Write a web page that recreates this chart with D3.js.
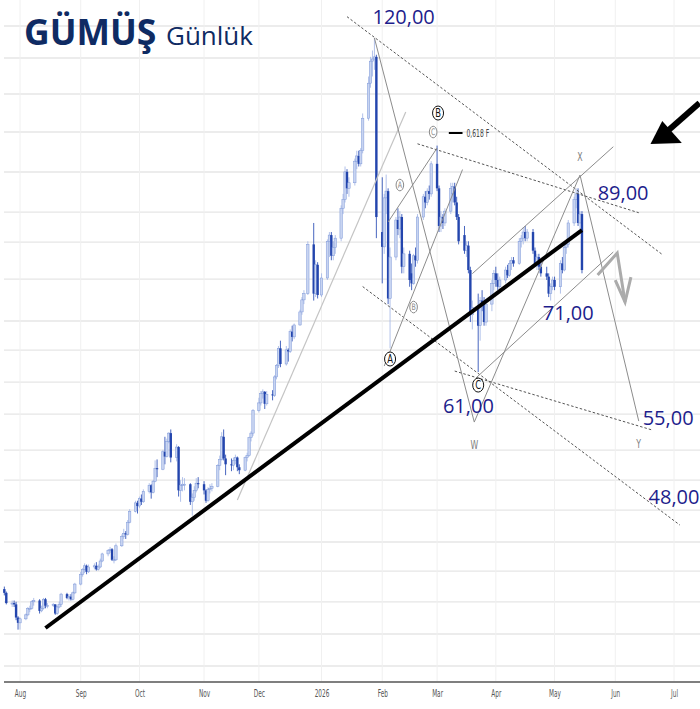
<!DOCTYPE html>
<html>
<head>
<meta charset="utf-8">
<script src="https://cdn.jsdelivr.net/npm/d3@7"></script>
<style>
  body { margin: 0; background: #fff; }
  svg { display: block; }
</style>
</head>
<body>
<div id="chart"></div>
<script>
// daily candles, one row per trading day: [open, high, low, close]
var jul25 = [
  [39.3,39.5,38.8,39.0],[39.0,39.1,38.1,38.2],[38.2,38.4,37.9,38.2],[38.2,38.4,37.9,38.1],
  [38.1,38.3,36.9,37.1],[37.1,37.2,36.2,36.7]
]
var aug25 = [
  [36.7,37.1,36.2,37.0],[37.0,37.4,36.9,37.3],[37.3,37.9,37.2,37.8],[37.8,38.0,37.5,37.8],
  [37.8,38.4,37.7,38.3],[38.3,38.6,38.0,38.4],[38.4,38.5,37.4,37.6],[37.6,38.0,37.5,37.8],
  [37.8,38.6,37.7,38.5],[38.5,38.6,37.8,38.0],[38.0,38.2,37.8,38.0],[38.0,38.2,37.9,38.1],
  [38.1,38.1,37.3,37.4],[37.4,38.0,37.3,37.9],[37.9,38.3,37.8,38.1],[38.1,39.0,37.9,38.9],
  [38.9,39.0,38.5,38.6],[38.6,38.9,38.4,38.7],[38.7,38.9,38.4,38.5],[38.5,39.1,38.4,39.0],
  [39.0,39.8,38.9,39.7]
]
var sep25 = [
  [39.7,40.7,39.6,40.5],[40.5,41.0,40.3,40.9],[40.9,41.4,40.6,41.2],[41.2,41.3,40.5,40.7],
  [40.7,41.3,40.6,41.1],[41.1,41.4,40.9,41.2],[41.2,41.5,40.8,40.9],[40.9,41.3,40.8,41.1],
  [41.1,41.8,41.0,41.6],[41.6,42.3,41.5,42.2],[42.2,42.6,42.0,42.5],[42.5,42.8,42.3,42.6],
  [42.6,42.7,41.6,41.7],[41.7,42.0,41.4,41.7],[41.7,43.1,41.6,42.9],[42.9,43.9,42.8,43.7],
  [43.7,44.4,43.5,44.0],[44.0,44.2,43.5,43.9],[43.9,45.2,43.8,45.0],[45.0,46.2,44.9,46.0],
  [46.0,47.0,45.9,46.8],[46.8,47.0,45.8,46.5]
]
var oct25 = [
  [46.5,47.4,46.3,47.2],[47.2,47.6,46.6,46.9],[46.9,48.1,46.8,47.9],[47.9,48.7,47.7,48.5],
  [48.5,48.6,47.2,47.8],[47.8,49.0,47.7,48.9],[48.9,51.0,48.8,50.2],[50.2,51.1,49.3,50.1],
  [50.1,52.1,50.0,51.9],[51.9,53.5,50.6,51.4],[51.4,53.3,51.3,53.0],[53.0,54.0,52.8,53.9],
  [53.9,54.3,50.8,51.3],[51.3,52.7,50.9,52.4],[52.4,52.5,47.4,48.0],[48.0,49.0,46.9,48.5],
  [48.5,49.3,47.9,48.6],[48.6,49.2,48.0,48.6],[48.6,48.7,46.6,46.9],[46.9,47.7,45.6,47.3],
  [47.3,48.4,47.0,48.0],[48.0,49.2,47.8,48.7],[48.7,49.3,48.2,48.6]
]
var nov25 = [
  [48.6,48.9,47.6,48.0],[48.0,48.1,46.8,47.0],[47.0,48.3,46.9,48.1],[48.1,48.6,47.7,48.2],
  [48.2,48.7,47.9,48.4],[48.4,50.6,48.3,50.5],[50.5,51.5,50.0,51.1],[51.1,54.0,51.0,53.5],
  [53.5,54.3,51.0,51.2],[51.2,51.6,49.5,50.6],[50.6,51.2,49.9,50.5],[50.5,51.3,50.0,51.0],
  [51.0,51.6,50.6,51.3],[51.3,51.4,49.9,50.3],[50.3,50.6,49.6,50.0],[50.0,51.4,49.9,51.3],
  [51.3,51.8,50.9,51.5],[51.5,53.5,51.4,53.4],[53.4,54.1,53.0,53.9],[53.9,56.6,53.6,56.4]
]
var dec25 = [
  [56.4,57.9,56.2,57.3],[57.3,58.7,57.0,58.4],[58.4,58.9,57.8,58.6],[58.6,58.7,56.6,57.2],
  [57.2,58.7,57.0,58.3],[58.3,58.8,57.6,58.2],[58.2,60.6,58.0,60.4],[60.4,62.0,60.1,61.8],
  [61.8,64.3,61.5,64.0],[64.0,65.0,61.6,62.0],[62.0,64.3,61.8,63.8],[63.8,64.0,62.3,63.6],
  [63.6,66.5,63.4,66.2],[66.2,67.0,64.9,65.5],[65.5,67.3,65.2,67.1],[67.1,69.2,67.0,68.9],
  [68.9,71.0,68.5,70.6],[70.6,72.0,70.0,71.5],[71.5,79.5,71.3,79.0],[79.0,82.5,70.5,71.5],
  [71.5,76.5,71.0,75.8],[75.8,76.2,70.8,71.3]
]
var jan26 = [
  [71.3,74.5,71.0,73.8],[73.8,79.8,73.5,79.5],[79.5,81.0,77.0,80.5],[80.5,81.0,76.5,77.2],
  [77.2,79.5,76.5,78.5],[78.5,80.5,77.5,80.0],[80.0,85.5,79.5,85.0],[85.0,87.5,84.0,86.5],
  [86.5,92.5,86.0,91.5],[91.5,92.0,87.5,88.5],[88.5,90.5,87.0,89.5],[89.5,94.0,89.0,93.5],
  [93.5,95.5,92.0,94.5],[94.5,95.5,92.5,93.0],[93.0,96.0,92.5,95.5],[95.5,103.0,95.0,102.0],
  [102.0,111.0,101.5,109.5],[109.5,115.5,108.5,114.5],[114.5,117.0,111.0,115.0],
  [115.0,120.0,112.5,115.5],[115.5,116.0,80.0,83.5]
]
var feb26 = [
  [81.0,90.5,73.0,78.6],[78.6,87.5,77.5,86.8],[86.8,91.0,84.0,88.0],[88.0,88.5,70.0,70.8],
  [70.8,78.5,64.0,77.0],[77.0,83.5,76.5,83.0],[83.0,85.0,80.5,81.5],[81.5,84.5,80.0,83.5],
  [83.5,84.0,74.5,75.5],[75.5,78.5,74.5,77.5],[77.5,78.0,72.5,73.5],[74.5,76.0,72.0,73.0],
  [73.0,77.5,72.8,77.2],[77.2,78.5,75.5,76.5],[76.5,84.0,76.0,83.5],[83.5,87.5,83.0,87.0],
  [87.0,88.0,85.0,86.0],[86.0,88.5,85.5,88.0],[88.0,89.0,86.5,87.5],[87.5,93.5,87.0,93.0]
]
var mar26 = [
  [93.0,96.5,88.0,88.5],[88.5,89.0,81.0,82.0],[82.0,84.5,81.0,83.5],[83.5,84.0,81.5,82.5],
  [82.5,85.0,82.0,84.5],[84.5,89.5,84.0,88.5],[87.5,89.5,86.0,88.8],[88.8,89.5,85.5,86.0],
  [86.0,87.0,83.0,83.5],[83.5,84.0,79.0,79.5],[80.5,82.0,77.5,78.0],[78.0,79.5,77.0,78.8],
  [78.8,79.5,74.5,75.0],[75.0,75.5,67.5,68.5],[68.5,70.5,66.5,69.5],[69.5,71.5,61.0,67.0],
  [67.0,71.0,65.0,70.5],[70.5,72.0,69.0,70.0],[70.0,71.0,67.0,67.5],[67.5,70.5,67.0,70.0],
  [70.0,73.5,69.0,73.0],[73.0,75.0,72.0,74.5]
]
var apr26 = [
  [74.5,75.5,72.5,73.5],[73.5,74.5,72.0,72.5],[72.5,74.0,72.0,73.5],[73.5,75.5,73.0,75.0],
  [75.0,75.8,73.8,74.2],[74.2,76.5,74.0,76.0],[76.0,77.0,75.0,76.5],[76.5,77.0,75.5,76.0],
  [76.0,80.0,75.8,79.5],[79.5,80.5,78.5,80.0],[80.0,81.8,79.0,81.0],[81.0,82.0,79.5,80.0],
  [80.0,81.5,79.5,81.0],[81.0,81.5,77.5,78.0],[78.0,78.5,75.5,76.0],[76.0,77.5,75.0,77.0],
  [77.0,77.5,75.0,75.5],[75.5,76.5,74.0,74.5],[74.5,75.5,73.5,74.0],[74.0,74.5,71.0,71.5],
  [71.5,73.0,70.5,72.5],[72.5,74.0,72.0,73.5]
]
var may26 = [
  [73.5,74.0,72.0,72.5],[72.5,76.5,71.5,76.0],[76.0,77.0,74.5,75.0],[75.0,79.0,74.8,78.5],
  [78.5,79.5,77.5,79.0],[79.0,83.0,78.5,82.5],[82.5,87.0,82.0,86.5],[86.5,88.5,85.0,87.5],
  [87.5,88.5,82.0,82.5],[82.5,84.5,81.5,84.0],[84.0,84.5,74.5,75.0]
]
// first calendar day of each block
var blockStarts = ["2025-07-24","2025-08-01","2025-09-01","2025-10-01","2025-11-01","2025-12-01",
                   "2026-01-01","2026-02-01","2026-03-01","2026-04-01","2026-05-01"]
var holidays = ["2025-12-25","2026-01-01"]

// axis
var tickDates  = ["2025-08-01","2025-09-01","2025-10-01","2025-11-03","2025-12-01","2026-01-02",
                  "2026-02-02","2026-03-02","2026-04-01","2026-05-01","2026-06-01","2026-07-01"]
var tickLabels = ["Aug","Sep","Oct","Nov","Dec","2026","Feb","Mar","Apr","May","Jun","Jul"]
var gridPrices = [122.95,115.23,107.13,99.19,91.47,84.35,79.37,73.64,67.64,63.78,
                  59.77,56.02,52.08,49.01,46.12,43.23,40.76,38.29,35.88,33.63]

// drawn analysis, as [date, price] points
var supportLine = [["2025-08-14",36.32],["2026-05-15",81.33]]
var steepLine   = [["2025-11-20",47.06],["2026-02-14",103.3]]
var dottedLines = [
  [["2026-01-15",125.3],["2026-06-25",77.4]],
  [["2026-02-20",96.85],["2026-06-13",84.23]],
  [["2026-01-23",72.53],["2026-07-04",44.74]],
  [["2026-03-11",61.12],["2026-06-20",54.23]]
]
var waveLines = [
  [["2026-01-29",120],["2026-03-21",55.12],["2026-05-14",90.91],["2026-06-13",55.23]],
  [["2026-02-03",61.74],["2026-03-15",91.93]],
  [["2026-02-05",82.66],["2026-03-02",96.03]],
  [["2026-03-20",74.45],["2026-05-31",96.28]],
  [["2026-03-22",60.30],["2026-05-31",77.79]]
]
var downArrow     = [["2026-05-23",74.24],["2026-06-02",77.63],["2026-06-06",70.29]]
var downArrowHead = [["2026-06-01",73.49],["2026-06-06",70.29],["2026-06-09",73.94]]
var bigArrowShaft = [["2026-07-14",105.2],["2026-06-26",98.79]]
var bigArrowHead  = [["2026-06-19",96.81],["2026-06-25",101.43],["2026-07-05",97.0]]
var fibMark = [["2026-03-08",98.99],["2026-03-15",98.99]]

var levelTexts  = ["120,00","89,00","71,00","61,00","55,00","48,00"]
var levelDates  = ["2026-01-28","2026-05-23","2026-04-25","2026-03-05","2026-06-15","2026-06-18"]
var levelPrices = [123.45,86.43,67.77,56.14,54.79,46.68]

var majorWaves  = ["B","A","C"]
var majorDates  = ["2026-03-02T12:00","2026-02-06","2026-03-23"]
var majorPrices = [103.08,62.63,59.41]
var minorWaves  = ["C","A","B"]
var minorDates  = ["2026-02-28","2026-02-11","2026-02-18"]
var minorPrices = [99.19,89.09,69.58]
var pointNames  = ["X","W","Y"]
var pointDates  = ["2026-05-14","2026-03-21","2026-06-13"]
var pointPrices = [93.53,52.19,52.29]

var width = 700
var height = 709
var svg, x, y, candles

var parseDay = d3.timeParse("%Y-%m-%d")
var parseHour = d3.timeParse("%Y-%m-%dT%H:%M")
var fmtDay = d3.timeFormat("%Y-%m-%d")
function toDate(s){ return s.length > 10 ? parseHour(s) : parseDay(s) }
function pt(p){ return [x(toDate(p[0])), y(p[1])] }

init_vis()
draw_grid()
draw_candles()
draw_analysis()
draw_labels()

function build_candles(){
  var blocks = [jul25, aug25, sep25, oct25, nov25, dec25, jan26, feb26, mar26, apr26, may26]
  var out = []
  blocks.forEach(function(rows, b){
    var d = parseDay(blockStarts[b]), i = 0
    while (i < rows.length){
      var wd = d.getDay()
      if (wd != 0 && wd != 6 && holidays.indexOf(fmtDay(d)) < 0){
        var r = rows[i++]
        out.push({date: new Date(d), open: r[0], high: r[1], low: r[2], close: r[3]})
      }
      d.setDate(d.getDate() + 1)
    }
  })
  return out
}

function init_vis(){
  svg = d3.select("#chart")
    .append("svg")
      .attr("width", width)
      .attr("height", height)
      .style("font-family", "'Open Sans', sans-serif")

  x = d3.scaleTime()
    .domain([new Date(2025, 7, 1), new Date(2026, 6, 1)])
    .range([20, 674])

  // log price scale
  y = d3.scaleLog()
    .domain([120, 36.32])
    .range([38, 628])

  candles = build_candles()
}

function draw_grid(){
  svg.append("g")
    .selectAll("line")
    .data(gridPrices)
    .enter().append("line")
      .attr("x1", 4).attr("x2", width)
      .attr("y1", d => y(d)).attr("y2", d => y(d))
      .attr("stroke", "#e6e6e6")
      .attr("stroke-width", 1.3)

  svg.append("g")
    .selectAll("line")
    .data(tickDates)
    .enter().append("line")
      .attr("x1", d => x(parseDay(d))).attr("x2", d => x(parseDay(d)))
      .attr("y1", 0).attr("y2", 681)
      .attr("stroke", "#f0f0f0")
      .attr("stroke-width", 1)

  var axis = d3.axisBottom(x)
    .tickValues(tickDates.map(parseDay))
    .tickFormat((d, i) => tickLabels[i])
    .tickSize(0)
    .tickPadding(0)

  var g = svg.append("g")
    .attr("transform", "translate(0,682)")
    .call(axis)
  g.select(".domain").remove()
  // narrow, squeezed month names
  g.selectAll(".tick text")
    .attr("font-family", "'DejaVu Sans', sans-serif")
    .attr("font-size", 10.5)
    .attr("fill", "#555")
    .attr("y", 0)
    .attr("dy", 0)
    .attr("transform", "translate(0,15) scale(0.55,1)")

  svg.append("line")
    .attr("x1", 4).attr("x2", width)
    .attr("y1", 682).attr("y2", 682)
    .attr("stroke", "#7f7f7f")
    .attr("stroke-width", 2)
}

function draw_candles(){
  var w = 2.4
  var g = svg.append("g")

  g.selectAll("wick")
    .data(candles)
    .enter().append("line")
      .attr("x1", d => x(d.date)).attr("x2", d => x(d.date))
      .attr("y1", d => y(d.high)).attr("y2", d => y(d.low))
      .attr("stroke", d => d.close >= d.open ? "#a9bbe8" : "#3355b8")
      .attr("stroke-width", 0.9)

  g.selectAll("body")
    .data(candles)
    .enter().append("rect")
      .attr("x", d => x(d.date) - w / 2)
      .attr("width", w)
      .attr("y", d => y(Math.max(d.open, d.close)))
      .attr("height", d => Math.max(1, Math.abs(y(d.open) - y(d.close))))
      .attr("fill", d => d.close >= d.open ? "#c8d4f1" : "#2345ad")
      .attr("stroke", d => d.close >= d.open ? "#7d97d8" : "none")
      .attr("stroke-width", 0.5)
}

function draw_analysis(){
  var line = d3.line().x(d => pt(d)[0]).y(d => pt(d)[1])
  var g = svg.append("g").attr("fill", "none")

  g.append("path")
    .attr("d", line(steepLine))
    .attr("stroke", "#c4c4c4")
    .attr("stroke-width", 1.2)

  g.selectAll("dotted")
    .data(dottedLines)
    .enter().append("path")
      .attr("d", line)
      .attr("stroke", "#555")
      .attr("stroke-width", 1)
      .attr("stroke-dasharray", "2.5,2")

  g.selectAll("waves")
    .data(waveLines)
    .enter().append("path")
      .attr("d", line)
      .attr("stroke", "#8c8c8c")
      .attr("stroke-width", 1)

  g.append("path")
    .attr("d", line(supportLine))
    .attr("stroke", "#000")
    .attr("stroke-width", 4)

  g.append("path")
    .attr("d", line(downArrow))
    .attr("stroke", "#ababab")
    .attr("stroke-width", 3)
  g.append("path")
    .attr("d", line(downArrowHead))
    .attr("stroke", "#ababab")
    .attr("stroke-width", 3)

  g.append("path")
    .attr("d", line(bigArrowShaft))
    .attr("stroke", "#000")
    .attr("stroke-width", 6)
  svg.append("path")
    .attr("d", line(bigArrowHead) + "Z")
    .attr("fill", "#000")

  g.append("path")
    .attr("d", line(fibMark))
    .attr("stroke", "#000")
    .attr("stroke-width", 2)
}

function draw_labels(){
  svg.append("text")
    .attr("x", 24).attr("y", 45)
    .attr("font-size", 35.5).attr("font-weight", 700)
    .attr("fill", "#0f2b63")
    .text("GÜMÜŞ")
  svg.append("text")
    .attr("x", 166).attr("y", 45)
    .attr("font-size", 26)
    .attr("fill", "#0f2b63")
    .text("Günlük")

  svg.append("g")
    .selectAll("text")
    .data(levelTexts)
    .enter().append("text")
      .attr("x", (d, i) => x(toDate(levelDates[i])))
      .attr("y", (d, i) => y(levelPrices[i]))
      .attr("font-size", 20)
      .attr("fill", "#1d1d8c")
      .text(d => d)

  // 0,618 F
  svg.append("text")
    .attr("transform", "translate(" + x(parseDay("2026-03-17")) + "," + y(98.19) + ") scale(0.55,1)")
    .attr("font-family", "'DejaVu Sans', sans-serif")
    .attr("font-size", 11)
    .attr("fill", "#444")
    .text("0,618 F")

  circled(majorWaves, majorDates, majorPrices, 5.5, 7, "#111", 12)
  circled(minorWaves, minorDates, minorPrices, 3.8, 5.8, "#8a8a8a", 9)

  svg.append("g")
    .selectAll("text")
    .data(pointNames)
    .enter().append("text")
      .attr("transform", (d, i) => "translate(" + x(parseDay(pointDates[i])) + "," + y(pointPrices[i]) + ") scale(0.6,1)")
      .attr("text-anchor", "middle")
      .attr("font-family", "'DejaVu Sans', sans-serif")
      .attr("font-size", 13)
      .attr("fill", "#808080")
      .text(d => d)
}

function circled(names, dates, prices, rx, ry, color, size){
  var g = svg.append("g")
    .selectAll("g")
    .data(names)
    .enter().append("g")
      .attr("transform", (d, i) => "translate(" + x(toDate(dates[i])) + "," + y(prices[i]) + ")")
  g.append("ellipse")
    .attr("rx", rx).attr("ry", ry)
    .attr("fill", "#fff")
    .attr("stroke", color)
    .attr("stroke-width", 1)
  g.append("text")
    .attr("transform", "scale(0.7,1)")
    .attr("text-anchor", "middle")
    .attr("dy", "0.36em")
    .attr("font-family", "'DejaVu Sans', sans-serif")
    .attr("font-size", size)
    .attr("fill", color)
    .text(d => d)
}
</script>
</body>
</html>
